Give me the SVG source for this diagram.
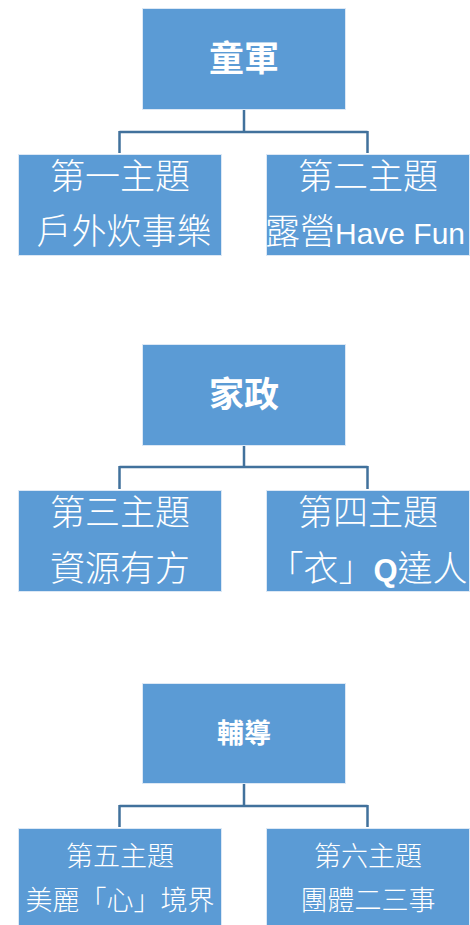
<svg xmlns="http://www.w3.org/2000/svg" width="470" height="925" viewBox="0 0 470 925">
<style>
.box{fill:#5B9BD5;stroke:#DCE8F5;stroke-width:1}
.conn{fill:none;stroke:#41719C;stroke-width:2.5}
text{fill:#FFFFFF;font-family:"Noto Sans CJK TC","Noto Sans CJK SC",sans-serif;text-anchor:middle}
.h1{font-size:35px;font-weight:bold}
.c1{font-size:35px;font-weight:300}
.h3{font-size:27px;font-weight:bold}
.c3{font-size:27px;font-weight:300}
.lat{font-family:"Liberation Sans",sans-serif}
</style>
<rect width="470" height="925" fill="#FFFFFF"/>
<g id="connectors">
<path class="conn" d="M244 110 V132 M119.5 132 H367.5 M119.5 131 V153 M367.5 131 V153"/>
<path class="conn" d="M244 446 V467 M119.5 467 H367.5 M119.5 466 V489 M367.5 466 V489"/>
<path class="conn" d="M244 784 V806 M119.5 806 H367.5 M119.5 805 V827 M367.5 805 V827"/>
</g>
<g id="n-scout">
<rect class="box" x="142.5" y="8.5" width="203" height="101"/>
<text class="h1" x="244" y="71">童軍</text>
</g>
<g id="n-theme1">
<rect class="box" x="18.5" y="154.5" width="203" height="101"/>
<text class="c1" x="120" y="189">第一主題</text>
<text class="c1" x="124" y="244">戶外炊事樂</text>
</g>
<g id="n-theme2">
<rect class="box" x="266.5" y="154.5" width="203" height="101"/>
<text class="c1" x="368" y="189">第二主題</text>
<text class="c1" x="365" y="244">露營<tspan class="lat" font-size="30">Have Fun</tspan></text>
</g>
<g id="n-home">
<rect class="box" x="142.5" y="344.5" width="203" height="101"/>
<text class="h1" x="244" y="407">家政</text>
</g>
<g id="n-theme3">
<rect class="box" x="18.5" y="490.5" width="203" height="101"/>
<text class="c1" x="120" y="525">第三主題</text>
<text class="c1" x="120" y="581">資源有方</text>
</g>
<g id="n-theme4">
<rect class="box" x="266.5" y="490.5" width="203" height="101"/>
<text class="c1" x="368" y="525">第四主題</text>
<text class="c1" x="368" y="581">「衣」<tspan class="lat" font-weight="bold" font-size="31">Q</tspan>達人</text>
</g>
<g id="n-guide">
<rect class="box" x="142.5" y="683.5" width="203" height="100"/>
<text class="h3" x="244" y="743">輔導</text>
</g>
<g id="n-theme5">
<rect class="box" x="18.5" y="828.5" width="203" height="100"/>
<text class="c3" x="120" y="866">第五主題</text>
<text class="c3" x="120" y="910">美麗「心」境界</text>
</g>
<g id="n-theme6">
<rect class="box" x="266.5" y="828.5" width="203" height="100"/>
<text class="c3" x="368" y="866">第六主題</text>
<text class="c3" x="368" y="910">團體二三事</text>
</g>
</svg>
